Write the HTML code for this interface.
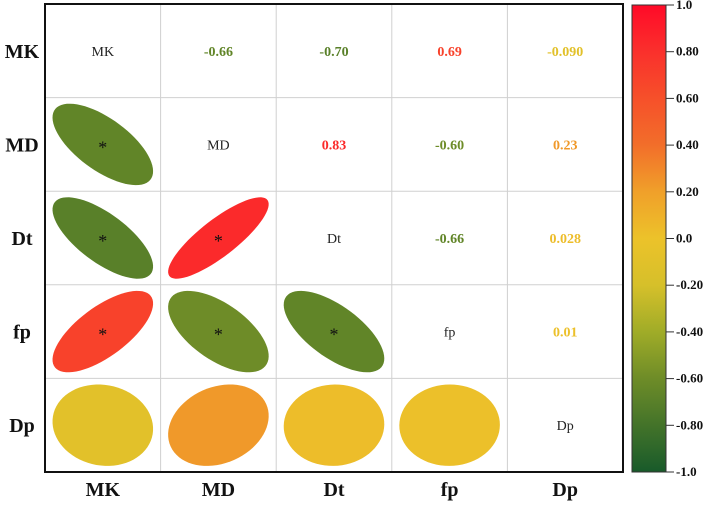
<!DOCTYPE html>
<html><head><meta charset="utf-8"><style>
body{margin:0;background:#fff;}
svg text{font-family:"Liberation Serif",serif;}
</style></head><body>
<svg id="c" width="708" height="502"></svg>
<script>
const vars=["MK","MD","Dt","fp","Dp"];
const corr=[
[1,-0.66,-0.70,0.69,-0.090],
[-0.66,1,0.83,-0.60,0.23],
[-0.70,0.83,1,-0.66,0.028],
[0.69,-0.60,-0.66,1,0.01],
[-0.090,0.23,0.028,0.01,1]];
const labels=[
["MK","-0.66","-0.70","0.69","-0.090"],
["","MD","0.83","-0.60","0.23"],
["","","Dt","-0.66","0.028"],
["","","","fp","0.01"],
["","","","","Dp"]];
const cbTicks=[1.0,0.8,0.6,0.4,0.2,0.0,-0.2,-0.4,-0.6,-0.8,-1.0];
const cbTickLabels=["1.0","0.80","0.60","0.40","0.20","0.0","-0.20","-0.40","-0.60","-0.80","-1.0"];
const stops=[[-1,[24,90,42]],[-0.6,[110,140,40]],[-0.4,[160,172,40]],[-0.2,[214,192,42]],[0,[236,194,42]],[0.2,[240,160,42]],[0.4,[242,110,42]],[0.6,[246,80,42]],[0.8,[250,48,44]],[1,[255,10,40]]];
function col(v){for(let i=0;i<stops.length-1;i++){const[a,ca]=stops[i],[b,cb]=stops[i+1];if(v<=b){const t=(v-a)/(b-a);return`rgb(${ca.map((c,k)=>Math.round(c+(cb[k]-c)*t)).join(",")})`;}}return"rgb(255,10,40)";}
const NS="http://www.w3.org/2000/svg",svg=document.getElementById("c");
function mk(t,at,p){const e=document.createElementNS(NS,t);for(const k in at)e.setAttribute(k,at[k]);(p||svg).appendChild(e);return e;}
const L=45,T=4,R=623,B=472,n=vars.length,cw=(R-L)/n,ch=(B-T)/n;
const x=i=>L+i*cw, y=j=>T+j*ch;
for(let i=1;i<n;i++){
let g=mk("line",{x1:x(i),x2:x(i),y1:T,y2:B,stroke:"#d0d0d0","stroke-width":1});

g=mk("line",{x1:L,x2:R,y1:y(i),y2:y(i),stroke:"#d0d0d0","stroke-width":1});
}
for(let r=0;r<n;r++)for(let c=0;c<n;c++){
const cx=x(c)+cw/2,cy=y(r)+ch/2,v=corr[r][c];
if(c<r){
const a=Math.sqrt(1+Math.abs(v)),b=Math.sqrt(1-Math.abs(v)),s=v<0?1:-1,sx=cw/2*0.87,sy=ch/2*0.87;
let d="";for(let k=0;k<=72;k++){const t=k/72*2*Math.PI;const u=(Math.cos(t)*a+Math.sin(t)*b)/Math.SQRT2,w=(Math.cos(t)*a*s-Math.sin(t)*b*s)/Math.SQRT2;
d+=(k?"L":"M")+(cx+u*sx).toFixed(2)+","+(cy+w*sy).toFixed(2);}
const e=mk("path",{d:d+"Z",fill:col(v)});

if(Math.abs(v)>=0.6){const st=mk("text",{x:cx,y:cy+9,"text-anchor":"middle","font-size":18,fill:"#111"});st.textContent="*";
}
}else{
const diag=r==c;const t=mk("text",{x:cx,y:cy+5,"text-anchor":"middle","font-size":14,"font-weight":diag?"normal":"bold",fill:diag?"#222":col(v)});
t.textContent=labels[r][c];
}
}
let f=mk("rect",{x:L,y:T,width:R-L,height:B-T,fill:"none",stroke:"#111","stroke-width":2});

vars.forEach((v,i)=>{
let t=mk("text",{x:22,y:y(i)+ch/2+7,"text-anchor":"middle","font-size":20,"font-weight":"bold",fill:"#111"});t.textContent=v;

t=mk("text",{x:x(i)+cw/2,y:496,"text-anchor":"middle","font-size":20,"font-weight":"bold",fill:"#111"});t.textContent=v;
});
const CX=632,CW=34,CT=5,CB=472,cy2=v=>CT+(1-v)/2*(CB-CT);
const defs=mk("defs",{});const gr=mk("linearGradient",{id:"g",x1:0,y1:0,x2:0,y2:1},defs);
for(let k=0;k<=20;k++){const v=1-k/10;mk("stop",{offset:(k/20),"stop-color":col(v)},gr);}
const cb=mk("rect",{x:CX,y:CT,width:CW,height:CB-CT,fill:"url(#g)",stroke:"#333","stroke-width":1});

cbTicks.forEach((v,i)=>{const yy=cy2(v);
const l=mk("line",{x1:CX+CW,x2:CX+CW+8,y1:yy,y2:yy,stroke:"#333","stroke-width":1});

const t=mk("text",{x:CX+CW+10,y:yy+4,"font-size":13,"font-weight":"bold",fill:"#111"});t.textContent=cbTickLabels[i];
});
</script></body></html>
